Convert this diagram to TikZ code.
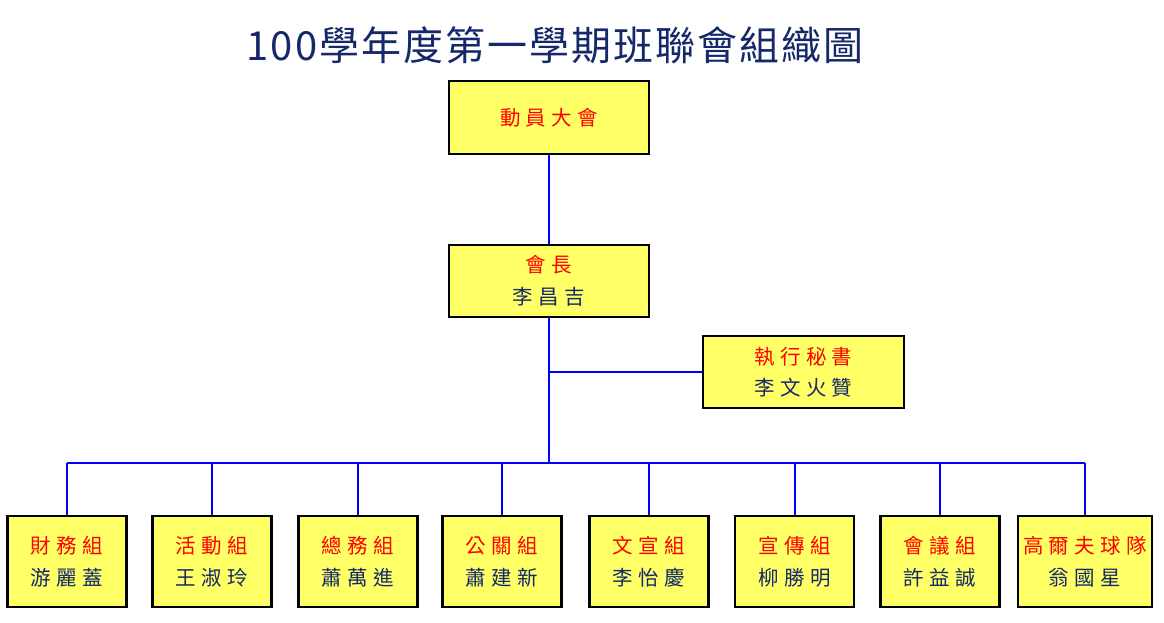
\documentclass[tikz,border=0pt]{standalone}
\usepackage{fontspec}
\newfontfamily\cjk{Noto Sans CJK TC}
\newfontfamily\cjkbox{Noto Sans CJK TC}[LetterSpace=26]
\newfontfamily\cjktitle{Noto Sans CJK TC}[LetterSpace=5]
\definecolor{boxfill}{HTML}{FFFF66}
\definecolor{navy}{HTML}{14286A}
\definecolor{linkblue}{HTML}{0000FF}
\definecolor{labred}{HTML}{FF0000}
\tikzset{
  orgbox/.style={draw=black, line width=2.4pt, fill=boxfill, inner sep=0pt,
    minimum width=#1, align=center, font=\cjkbox\fontsize{20.5}{31.5}\selectfont},
  orgbox/.default=200pt,
  link/.style={draw=linkblue, line width=2pt},
}
\newcommand{\lab}[2]{{\color{labred}#1}\\{\color{navy}#2}}
\begin{document}
\begin{tikzpicture}[x=1pt,y=-1pt]
\useasboundingbox (0,0) rectangle (1164,623);
\node[font=\cjktitle\fontsize{40}{42}\selectfont, text=navy] (title) at (555,45) {100學年度第一學期班聯會組織圖};

\node[orgbox=200pt, minimum height=73pt] (assembly) at (549,117.5) {{\color{labred}動員大會}};
\node[orgbox=200pt, minimum height=72pt] (pres) at (549,281) {\lab{會長}{李昌吉}};
\node[orgbox=201pt, minimum height=72pt] (sec) at (803.5,372) {\lab{執行秘書}{李文火贊}};

\coordinate (junc) at (pres.south |- sec.west);
\coordinate (bus) at (549,463);

\begin{scope}[every node/.style={orgbox=119pt, minimum height=91pt}]
\node (g1) at (67,561.5) {\lab{財務組}{游麗蓋}};
\node (g2) at (212,561.5) {\lab{活動組}{王淑玲}};
\node (g3) at (358,561.5) {\lab{總務組}{蕭萬進}};
\node (g4) at (502,561.5) {\lab{公關組}{蕭建新}};
\node (g5) at (649,561.5) {\lab{文宣組}{李怡慶}};
\node (g6) at (794.5,561.5) {\lab{宣傳組}{柳勝明}};
\node (g7) at (940,561.5) {\lab{會議組}{許益誠}};
\node[minimum width=134pt] (g8) at (1085,561.5) {\lab{高爾夫球隊}{翁國星}};
\end{scope}

\draw[link] (assembly) -- (pres);
\draw[link] (pres) -- (bus);
\draw[link] (junc) -- (sec.west);
\draw[link] (g1.north |- bus) -- (g8.north |- bus);
\foreach \g in {g1,g2,g3,g4,g5,g6,g7,g8}{
  \draw[link] (\g.north |- bus) -- (\g.north);
}
\end{tikzpicture}
\end{document}
